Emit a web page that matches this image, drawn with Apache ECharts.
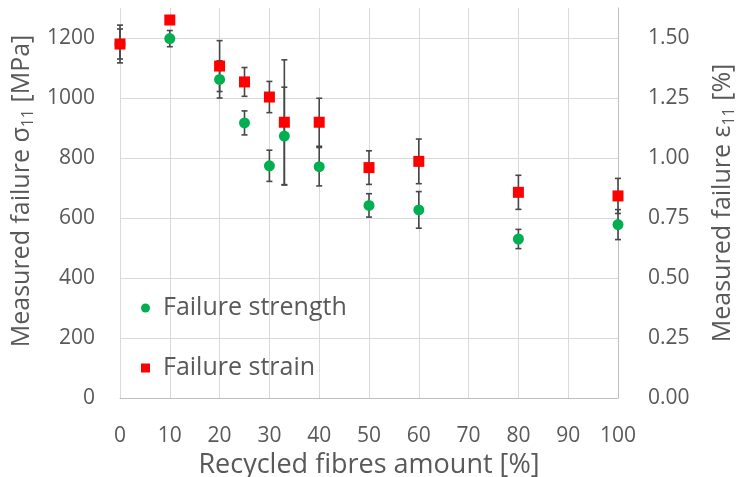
<!DOCTYPE html>
<html>
<head>
<meta charset="utf-8">
<script src="https://cdn.jsdelivr.net/npm/echarts@6/dist/echarts.min.js"></script>
<style>
html,body{margin:0;padding:0;background:#fff;}
#chart{width:739px;height:477px;}
</style>
</head>
<body>
<div id="chart"></div>
<script>
// Data
const recycled = [0, 10, 20, 25, 30, 33, 40, 50, 60, 80, 100];
const strength = [1180, 1198, 1062, 917, 774, 873, 771, 642, 627, 530, 578];
const strengthErr = [63, 27, 62, 40, 52, 163, 64, 39, 61, 32, 50];
const strain = [1.475, 1.575, 1.383, 1.317, 1.254, 1.149, 1.149, 0.960, 0.986, 0.857, 0.842];
const strainErr = [0.0625, 0, 0.106, 0.060, 0.065, 0.26, 0.10, 0.070, 0.093, 0.071, 0.073];
const xTicks = [0, 10, 20, 30, 40, 50, 60, 70, 80, 90, 100];
const leftTicks = [0, 200, 400, 600, 800, 1000, 1200];
const rightTicks = [0, 0.25, 0.5, 0.75, 1.0, 1.25, 1.5];

const FONT = 'Open Sans';
const TXT = '#595959';

function pairs(xs, ys) { return xs.map((x, i) => [x, ys[i]]); }
function errData(xs, ys, es) { return xs.map((x, i) => [x, ys[i] - es[i], ys[i] + es[i]]); }

function errRender(params, api) {
  const x = api.value(0);
  const lo = api.coord([x, api.value(1)]);
  const hi = api.coord([x, api.value(2)]);
  if (Math.abs(hi[1] - lo[1]) < 0.5) return null;
  const w = 3;
  const style = { stroke: '#474747', lineWidth: 1.6 };
  return {
    type: 'group',
    children: [
      { type: 'line', shape: { x1: lo[0], y1: lo[1], x2: hi[0], y2: hi[1] }, style: style },
      { type: 'line', shape: { x1: lo[0] - w, y1: lo[1], x2: lo[0] + w, y2: lo[1] }, style: style },
      { type: 'line', shape: { x1: hi[0] - w, y1: hi[1], x2: hi[0] + w, y2: hi[1] }, style: style }
    ]
  };
}

const subRich = { sub: { fontFamily: FONT, fontSize: 16, color: TXT, verticalAlign: 'bottom', padding: [12, 0, 0, 0] } };

const chart = echarts.init(document.getElementById('chart'));
chart.setOption({
  animation: false,
  backgroundColor: '#ffffff',
  textStyle: { fontFamily: FONT },
  grid: { left: 120, right: 121, top: 8, bottom: 79, containLabel: false, outerBoundsMode: 'none' },
  legend: {
    orient: 'vertical',
    left: 136,
    top: 288,
    itemGap: 30,
    itemWidth: 9,
    itemHeight: 9,
    textStyle: { fontFamily: FONT, fontSize: 25, color: TXT, lineHeight: 30, padding: [0, 0, 0, 8] },
    data: [
      { name: 'Failure strength', icon: 'circle' },
      { name: 'Failure strain', icon: 'rect' }
    ]
  },
  xAxis: {
    type: 'value',
    min: 0, max: 100, interval: 10,
    name: 'Recycled fibres amount [%]',
    nameLocation: 'middle',
    nameGap: 46,
    nameTextStyle: { fontFamily: FONT, fontSize: 27, color: TXT },
    axisLine: { show: true, lineStyle: { color: '#BFBFBF', width: 1 } },
    axisTick: { show: false },
    axisLabel: { fontFamily: FONT, fontSize: 21, color: TXT, margin: 28,
      formatter: v => xTicks.includes(v) ? String(v) : '' },
    splitLine: { show: true, lineStyle: { color: '#D9D9D9', width: 1 } }
  },
  yAxis: [
    {
      type: 'value',
      min: 0, max: 1300, interval: 200,
      position: 'left',
      name: 'Measured failure σ{sub|11} [MPa]',
      nameLocation: 'middle',
      nameGap: 69,
      nameTextStyle: { fontFamily: FONT, fontSize: 25, color: TXT, rich: subRich, padding: [0, 0, 0, 24] },
      axisLine: { show: false },
      axisTick: { show: false },
      axisLabel: { fontFamily: FONT, fontSize: 21, color: TXT, margin: 25, showMaxLabel: false,
        formatter: v => leftTicks.includes(v) ? String(v) : '' },
      splitLine: { show: true, showMaxLine: false, lineStyle: { color: '#D9D9D9', width: 1 } }
    },
    {
      type: 'value',
      min: 0, max: 1.625, interval: 0.25,
      position: 'right',
      name: 'Measured failure ε{sub|11} [%]',
      nameLocation: 'middle',
      nameGap: 91,
      nameRotate: 90,
      nameTextStyle: { fontFamily: FONT, fontSize: 25, color: TXT, rich: subRich },
      axisLine: { show: true, lineStyle: { color: '#BFBFBF', width: 1 } },
      axisTick: { show: false },
      axisLabel: { fontFamily: FONT, fontSize: 21, color: TXT, margin: 30, showMaxLabel: false,
        formatter: v => rightTicks.includes(v) ? v.toFixed(2) : '' },
      splitLine: { show: false }
    }
  ],
  series: [
    {
      type: 'custom', name: 'strengthErr', yAxisIndex: 0, z: 1,
      renderItem: errRender, data: errData(recycled, strength, strengthErr),
      encode: { x: 0, y: [1, 2] }, silent: true
    },
    {
      type: 'custom', name: 'strainErr', yAxisIndex: 1, z: 1,
      renderItem: errRender, data: errData(recycled, strain, strainErr),
      encode: { x: 0, y: [1, 2] }, silent: true
    },
    {
      type: 'scatter', name: 'Failure strength', yAxisIndex: 0, z: 3,
      symbol: 'circle', symbolSize: 11,
      itemStyle: { color: '#00B050', opacity: 1 },
      data: pairs(recycled, strength)
    },
    {
      type: 'scatter', name: 'Failure strain', yAxisIndex: 1, z: 4,
      symbol: 'rect', symbolSize: 11,
      itemStyle: { color: '#FF0000', opacity: 1 },
      data: pairs(recycled, strain)
    }
  ]
});
</script>
</body>
</html>
